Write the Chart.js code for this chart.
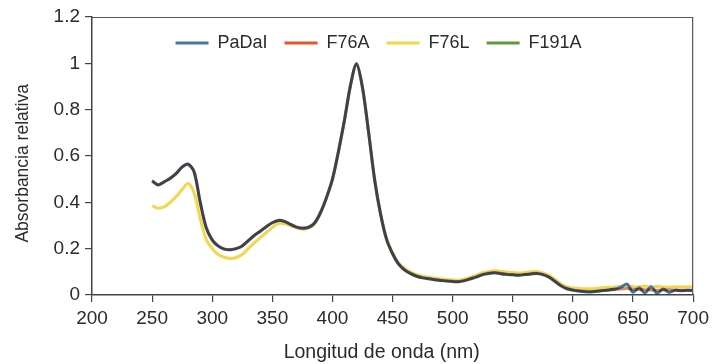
<!DOCTYPE html>
<html><head><meta charset="utf-8">
<script src="https://cdn.jsdelivr.net/npm/chart.js@4"></script>
<style>html,body{margin:0;padding:0;background:#fff}</style>
</head><body>
<canvas id="c" width="714" height="364"></canvas>
<script>
const wavelengths = [250,255,260,265,270,275,280,285,290,295,300,305,310,315,320,325,330,335,340,345,350,355,360,365,370,375,380,385,390,395,400,405,410,415,420,425,430,435,440,445,450,455,460,465,470,475,480,485,490,495,500,505,510,515,520,525,530,535,540,545,550,555,560,565,570,575,580,585,590,595,600,605,610,615,620,625,630,635,640,645,650,655,660,665,670,675,680,685,690,695,700];

const paDaI = [0.493,0.475,0.489,0.503,0.525,0.552,0.565,0.530,0.400,0.290,0.238,0.212,0.198,0.195,0.200,0.212,0.235,0.257,0.275,0.295,0.312,0.322,0.318,0.305,0.293,0.288,0.292,0.310,0.355,0.420,0.500,0.620,0.755,0.905,0.998,0.895,0.705,0.500,0.350,0.240,0.178,0.133,0.108,0.092,0.081,0.074,0.070,0.066,0.063,0.060,0.058,0.057,0.062,0.070,0.078,0.088,0.093,0.096,0.092,0.089,0.087,0.085,0.088,0.091,0.093,0.088,0.077,0.059,0.040,0.027,0.021,0.017,0.014,0.013,0.016,0.019,0.022,0.026,0.034,0.047,0.012,0.031,0.009,0.036,0.008,0.026,0.011,0.021,0.018,0.020,0.019];

const f76A = [0.491,0.477,0.487,0.505,0.523,0.554,0.563,0.532,0.402,0.292,0.236,0.210,0.199,0.196,0.201,0.213,0.234,0.258,0.276,0.296,0.313,0.321,0.317,0.306,0.294,0.289,0.293,0.311,0.356,0.421,0.501,0.621,0.756,0.906,0.997,0.894,0.704,0.501,0.349,0.241,0.179,0.134,0.109,0.093,0.082,0.075,0.071,0.067,0.064,0.061,0.059,0.058,0.063,0.071,0.079,0.089,0.094,0.097,0.093,0.090,0.088,0.086,0.089,0.092,0.094,0.089,0.078,0.060,0.041,0.028,0.022,0.018,0.016,0.015,0.017,0.020,0.023,0.024,0.026,0.028,0.025,0.024,0.023,0.022,0.021,0.022,0.023,0.021,0.020,0.021,0.020];

const f76L = [0.385,0.375,0.380,0.400,0.425,0.455,0.482,0.440,0.330,0.240,0.200,0.175,0.163,0.158,0.162,0.175,0.200,0.225,0.248,0.270,0.292,0.308,0.308,0.300,0.290,0.284,0.288,0.305,0.352,0.418,0.498,0.618,0.753,0.903,0.995,0.893,0.703,0.502,0.352,0.243,0.183,0.139,0.115,0.099,0.088,0.081,0.077,0.073,0.070,0.067,0.065,0.064,0.069,0.077,0.086,0.096,0.102,0.105,0.102,0.099,0.097,0.095,0.097,0.100,0.101,0.095,0.085,0.068,0.048,0.036,0.030,0.028,0.027,0.027,0.029,0.031,0.033,0.035,0.038,0.041,0.036,0.035,0.038,0.034,0.037,0.035,0.033,0.036,0.034,0.036,0.034];

const f191A = [0.494,0.474,0.490,0.502,0.526,0.551,0.566,0.529,0.399,0.289,0.239,0.213,0.197,0.194,0.199,0.211,0.236,0.256,0.274,0.294,0.311,0.323,0.319,0.304,0.292,0.287,0.291,0.309,0.354,0.419,0.499,0.619,0.754,0.904,0.999,0.896,0.706,0.499,0.351,0.239,0.177,0.132,0.107,0.091,0.080,0.073,0.069,0.065,0.062,0.059,0.057,0.056,0.061,0.069,0.077,0.087,0.092,0.095,0.091,0.088,0.086,0.084,0.087,0.090,0.092,0.087,0.076,0.058,0.039,0.026,0.020,0.016,0.015,0.014,0.015,0.018,0.021,0.023,0.025,0.027,0.024,0.023,0.022,0.021,0.020,0.021,0.022,0.020,0.019,0.020,0.019];

const seriesNames = ['PaDaI','F76A','F76L','F191A'];
const seriesColors = ['#4a74a8','#e8552b','#f2d64b','#5e9a3a'];
// how each line is composited: the three overlapping series multiply into a dark trace,
// F76L is laid behind them
const seriesAlpha = [1,0.6,1,0.2];
const seriesComposite = ['multiply','multiply','destination-over','multiply'];
const seriesOrder = [0,0,-1,0];
const xTicksMin = 200, xTicksMax = 700, xStep = 50;
const yTicksMin = 0, yTicksMax = 1.2, yStep = 0.2;

const allValues = [paDaI,f76A,f76L,f191A];
const datasets = seriesNames.map((name,i)=>({
  label: name,
  data: wavelengths.map((w,j)=>({x:w,y:allValues[i][j]})),
  borderColor: seriesColors[i],
  backgroundColor: seriesColors[i],
  borderWidth: 3,
  pointRadius: 0,
  tension: 0.3,
  order: seriesOrder[i]
}));

const FONT = "'Liberation Sans', Arial, sans-serif";
const TXT = '#2b2b2b';

const blendPlugin = {
  id:'blend',
  beforeDatasetDraw(chart,args){ const c=chart.ctx; c.save(); c.globalCompositeOperation=seriesComposite[args.index]; c.globalAlpha=seriesAlpha[args.index]; },
  afterDatasetDraw(chart){ chart.ctx.restore(); }
};
const framePlugin = {
  id:'frame',
  afterDraw(chart){
    const {ctx, chartArea:a} = chart;
    ctx.save(); ctx.strokeStyle='#555'; ctx.lineWidth=1.2;
    ctx.beginPath();
    ctx.moveTo(a.left, a.top+0.5); ctx.lineTo(a.right-0.5, a.top+0.5); ctx.lineTo(a.right-0.5, a.bottom);
    ctx.stroke(); ctx.restore();
  }
};
// keep the legend inside the plot area as one horizontal row
const legendInside = {
  id:'legendInside',
  afterInit(chart){
    const lg = chart.legend;
    const origFit = lg.fit.bind(lg);
    lg.fit = function(){ origFit(); this._realH = this.height; this.height = 0; };
  },
  afterLayout(chart){
    const lg = chart.legend;
    lg.height = lg._realH; lg.bottom = lg.top + lg._realH;
    lg.left = chart.chartArea.left - 28; lg.right = chart.chartArea.right; lg.width = lg.right - lg.left;
  }
};

new Chart(document.getElementById('c'), {
  type:'line',
  data:{datasets},
  plugins:[blendPlugin, framePlugin, legendInside],
  options:{
    responsive:false, animation:false,
    layout:{padding:{top:17,right:20,left:0,bottom:0}},
    plugins:{
      legend:{
        position:'top', align:'center',
        labels:{
          font:{family:FONT,size:18}, color:TXT, boxWidth:33, boxHeight:3, padding:17,
          generateLabels(chart){
            const items = Chart.defaults.plugins.legend.labels.generateLabels(chart);
            items.forEach(it=>{ it.lineWidth = 0; it.fillStyle = seriesColors[it.datasetIndex]; });
            return items.sort((a,b)=>a.datasetIndex-b.datasetIndex);
          }
        }
      },
      tooltip:{enabled:false}
    },
    scales:{
      x:{
        type:'linear', min:xTicksMin, max:xTicksMax,
        afterFit(s){ s.height = 69; },
        ticks:{stepSize:xStep, font:{family:FONT,size:19}, color:TXT, padding:5, maxRotation:0},
        grid:{display:true, drawOnChartArea:false, drawTicks:true, tickLength:7, color:'#444', lineWidth:1.2},
        border:{display:true, color:'#444', width:1.5},
        title:{display:true, text:'Longitud de onda (nm)\u00a0\u00a0\u00a0\u00a0', font:{family:FONT,size:19.5}, color:TXT, padding:{top:4,bottom:0}}
      },
      y:{
        min:yTicksMin, max:yTicksMax,
        afterFit(s){ s.width = 92; },
        ticks:{stepSize:yStep, font:{family:FONT,size:19}, color:TXT, padding:5,
          callback:(v)=> String(+v.toFixed(2))},
        grid:{display:true, drawOnChartArea:false, drawTicks:true, tickLength:7, color:'#444', lineWidth:1.2},
        border:{display:true, color:'#444', width:1.5},
        title:{display:true, text:'Absorbancia relativa\u00a0\u00a0\u00a0', font:{family:FONT,size:17.5}, color:TXT, padding:{top:13,bottom:4}}
      }
    }
  }
});
</script>
</body></html>
